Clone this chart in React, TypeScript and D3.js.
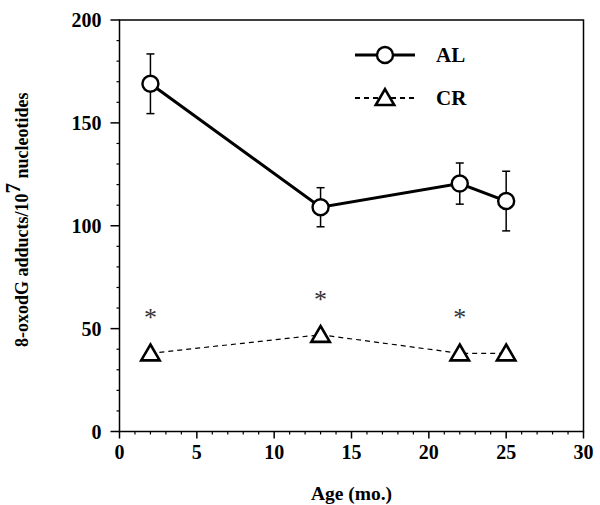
import React from "react";
import * as d3 from "d3";

const ages = [2, 13, 22, 25];
const alMean = [169, 109, 120.5, 112];
const alErr = [14.5, 9.5, 10, 14.5];
const crMean = [38, 47, 38, 38];
const starAges = [2, 13, 22];
const yMajorTicks = [0, 50, 100, 150, 200];
const xMajorTicks = [0, 5, 10, 15, 20, 25, 30];

const W = 600;
const H = 505;
const m = { left: 119.5, right: 583.5, top: 20, bottom: 431.5 };
const FONT = "'Liberation Serif', 'Times New Roman', serif";

export default function App() {
  const x = d3.scaleLinear().domain([0, 30]).range([m.left, m.right]);
  const y = d3.scaleLinear().domain([0, 200]).range([m.bottom, m.top]);
  const yMinor = d3.range(0, 201, 10).filter((v) => v % 50 !== 0);
  const xMinor = d3.range(0, 31, 1).filter((v) => v % 5 !== 0);

  const alLine = d3
    .line<number>()
    .x((_, i) => x(ages[i]))
    .y((d) => y(d))(alMean) as string;
  const crLine = d3
    .line<number>()
    .x((_, i) => x(ages[i]))
    .y((d) => y(d))(crMean) as string;

  const triSize = 8.8;
  const tri = (cx: number, cy: number) =>
    `M${cx},${cy - triSize} L${cx + triSize * 1.05},${cy + triSize * 0.8} L${cx - triSize * 1.05},${cy + triSize * 0.8} Z`;

  const cap = 4;

  return (
    <svg
      width={W}
      height={H}
      style={{ position: "absolute", left: 0, top: 0, background: "#fff" }}
      fontFamily={FONT}
      fontWeight="bold"
    >
      {/* frame */}
      <rect
        x={m.left}
        y={m.top}
        width={m.right - m.left}
        height={m.bottom - m.top}
        fill="none"
        stroke="#000"
        strokeWidth={1.5}
      />
      {/* y ticks */}
      {yMajorTicks.map((v) => (
        <g key={"ym" + v}>
          <line x1={m.left - 9} x2={m.left} y1={y(v)} y2={y(v)} stroke="#000" strokeWidth={1.5} />
          <text x={m.left - 18} y={y(v)} dy="0.35em" textAnchor="end" fontSize={20}>
            {v}
          </text>
        </g>
      ))}
      {yMinor.map((v) => (
        <line key={"yn" + v} x1={m.left - 3} x2={m.left} y1={y(v)} y2={y(v)} stroke="#000" strokeWidth={1.2} />
      ))}
      {/* x ticks */}
      {xMajorTicks.map((v) => (
        <g key={"xm" + v}>
          <line x1={x(v)} x2={x(v)} y1={m.bottom} y2={m.bottom + 7} stroke="#000" strokeWidth={1.5} />
          <text x={x(v)} y={m.bottom + 27.5} textAnchor="middle" fontSize={20}>
            {v}
          </text>
        </g>
      ))}
      {xMinor.map((v) => (
        <line key={"xn" + v} x1={x(v)} x2={x(v)} y1={m.bottom} y2={m.bottom + 3} stroke="#000" strokeWidth={1.2} />
      ))}
      {/* axis titles */}
      <text x={(m.left + m.right) / 2} y={500} textAnchor="middle" fontSize={19.5}>
        Age (mo.)
      </text>
      <text
        transform={`translate(28, ${(m.top + m.bottom) / 2 - 6}) rotate(-90)`}
        textAnchor="middle"
        fontSize={18}
      >
        8-oxodG adducts/10
        <tspan dy={-8} fontSize={21}>7</tspan>
        <tspan dy={8}> nucleotides</tspan>
      </text>

      {/* CR series */}
      <path d={crLine} fill="none" stroke="#000" strokeWidth={1.2} strokeDasharray="5,4" />
      {ages.map((a, i) => (
        <path key={"cr" + i} d={tri(x(a), y(crMean[i]))} fill="#fff" stroke="#000" strokeWidth={2.6} />
      ))}
      {starAges.map((a, i) => (
        <text key={"st" + i} x={x(a)} y={y(crMean[ages.indexOf(a)]) - 27} textAnchor="middle" fontSize={26} fill="#333" fontWeight="normal">
          *
        </text>
      ))}

      {/* AL series */}
      {ages.map((a, i) => (
        <g key={"err" + i} stroke="#000" strokeWidth={1.5}>
          <line x1={x(a)} x2={x(a)} y1={y(alMean[i] + alErr[i])} y2={y(alMean[i] - alErr[i])} />
          <line x1={x(a) - cap} x2={x(a) + cap} y1={y(alMean[i] + alErr[i])} y2={y(alMean[i] + alErr[i])} />
          <line x1={x(a) - cap} x2={x(a) + cap} y1={y(alMean[i] - alErr[i])} y2={y(alMean[i] - alErr[i])} />
        </g>
      ))}
      <path d={alLine} fill="none" stroke="#000" strokeWidth={3} />
      {ages.map((a, i) => (
        <circle key={"al" + i} cx={x(a)} cy={y(alMean[i])} r={8} fill="#fff" stroke="#000" strokeWidth={2.4} />
      ))}

      {/* legend */}
      <line x1={355} x2={415} y1={55} y2={55} stroke="#000" strokeWidth={3} />
      <circle cx={385} cy={55} r={8} fill="#fff" stroke="#000" strokeWidth={2.4} />
      <text x={436} y={62} fontSize={21}>AL</text>
      <line x1={355} x2={415} y1={98} y2={98} stroke="#000" strokeWidth={2} strokeDasharray="5,4" />
      <path d={tri(385, 98)} fill="#fff" stroke="#000" strokeWidth={2.6} />
      <text x={436} y={105} fontSize={21}>CR</text>
    </svg>
  );
}
